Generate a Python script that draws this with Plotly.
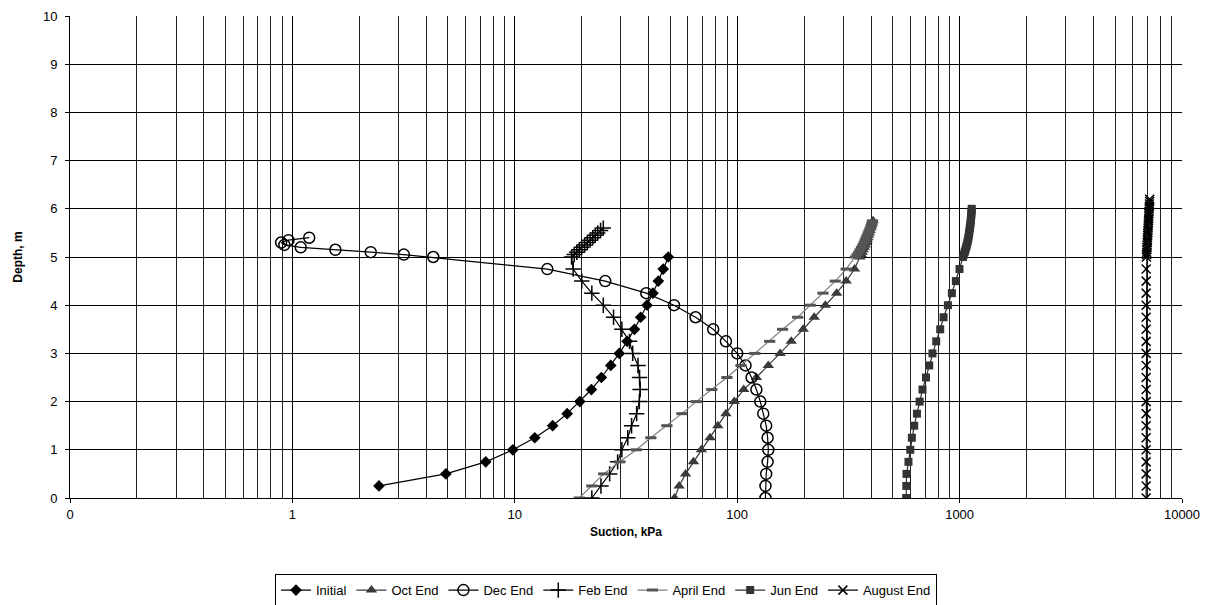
import plotly.graph_objects as go

# ---------------- data ----------------
initial_depth = [0.25, 0.5, 0.75, 1.0, 1.25, 1.5, 1.75, 2.0, 2.25, 2.5, 2.75, 3.0, 3.25, 3.5,
                 3.75, 4.0, 4.25, 4.5, 4.75, 5.0]
initial_suction = [2.45, 4.9, 7.4, 9.8, 12.3, 14.8, 17.2, 19.6, 22.1, 24.5, 27.0, 29.5, 32.0, 34.5,
                   36.8, 39.3, 41.8, 44.2, 46.5, 49.0]

oct_depth = [0.0, 0.25, 0.5, 0.75, 1.0, 1.25, 1.5, 1.75, 2.0, 2.25, 2.5, 2.75, 3.0, 3.25, 3.5,
             3.75, 4.0, 4.25, 4.5, 4.75, 5.0, 5.05, 5.1, 5.15, 5.2, 5.25, 5.3, 5.35, 5.4, 5.45,
             5.5, 5.55, 5.6, 5.65, 5.7, 5.75]
oct_suction = [52.3, 54.8, 58.6, 63.6, 69.0, 75.5, 81.8, 89.0, 97.0, 107, 122, 138, 156, 175, 198,
               222, 249, 280, 309, 337, 356, 361, 365, 369, 373, 377, 381, 384, 387, 390,
               393, 396, 399, 402, 405, 408]

dec_depth = [0.0, 0.25, 0.5, 0.75, 1.0, 1.25, 1.5, 1.75, 2.0, 2.25, 2.5, 2.75, 3.0, 3.25, 3.5,
             3.75, 4.0, 4.25, 4.5, 4.75, 5.0, 5.05, 5.1, 5.15, 5.2, 5.25, 5.3, 5.35, 5.4]
dec_suction = [134, 134, 135, 137, 138, 137, 135, 131, 127, 122, 116, 109, 100, 89, 78,
               65, 52, 39, 25.5, 14.0, 4.3, 3.17, 2.25, 1.56, 1.09, 0.92, 0.89, 0.96, 1.19]

feb_depth = [0.0, 0.25, 0.5, 0.75, 1.0, 1.25, 1.5, 1.75, 2.0, 2.25, 2.5, 2.75, 3.0, 3.25, 3.5,
             3.75, 4.0, 4.25, 4.5, 4.75, 5.0, 5.05, 5.1, 5.15, 5.2, 5.25, 5.3, 5.35, 5.4, 5.45,
             5.5, 5.55, 5.6]
feb_suction = [22.2, 24.4, 26.7, 29.0, 30.3, 32.2, 33.5, 35.3, 36.3, 36.6, 36.4, 35.8, 33.9, 32.8,
               30.3, 27.8, 25.0, 22.2, 20.0, 18.3, 18.0, 18.5, 19.0, 19.5, 20.0, 20.6, 21.2, 21.8,
               22.4, 23.0, 23.6, 24.3, 25.0]

april_depth = [0.0, 0.25, 0.5, 0.75, 1.0, 1.25, 1.5, 1.75, 2.0, 2.25, 2.5, 2.75, 3.0, 3.25, 3.5,
               3.75, 4.0, 4.25, 4.5, 4.75, 5.0, 5.05, 5.1, 5.15, 5.2, 5.25, 5.3, 5.35, 5.4, 5.45,
               5.5, 5.55, 5.6, 5.65, 5.7, 5.75]
april_suction = [19.5, 22.2, 25.1, 29.6, 35.2, 40.9, 48.3, 56.4, 65.4, 76.9, 89.9, 104, 120, 140,
                 160, 187, 213, 243, 276, 309, 340, 346, 352, 357, 362, 367, 372, 376, 380, 384,
                 388, 392, 396, 400, 403, 406]

jun_depth = [0.0, 0.25, 0.5, 0.75, 1.0, 1.25, 1.5, 1.75, 2.0, 2.25, 2.5, 2.75, 3.0, 3.25, 3.5,
             3.75, 4.0, 4.25, 4.5, 4.75, 5.0, 5.05, 5.1, 5.15, 5.2, 5.25, 5.3, 5.35, 5.4, 5.45,
             5.5, 5.55, 5.6, 5.65, 5.7, 5.75, 5.8, 5.85, 5.9, 5.95, 6.0]
jun_suction = [575, 576, 577, 589, 600, 610, 625, 643, 661, 681, 706, 730, 755, 785, 818,
               847, 886, 923, 962, 999, 1035, 1045, 1054, 1062, 1070, 1077, 1084, 1090, 1095, 1100,
               1104, 1108, 1112, 1116, 1119, 1122, 1125, 1128, 1130, 1132, 1134]

aug_depth = [0.0, 0.25, 0.5, 0.75, 1.0, 1.25, 1.5, 1.75, 2.0, 2.25, 2.5, 2.75, 3.0, 3.25, 3.5,
             3.75, 4.0, 4.25, 4.5, 4.75, 5.0, 5.05, 5.1, 5.15, 5.2, 5.25, 5.3, 5.35, 5.4, 5.45,
             5.5, 5.55, 5.6, 5.65, 5.7, 5.75, 5.8, 5.85, 5.9, 5.95, 6.0, 6.05, 6.1, 6.15, 6.2]
aug_suction = [6900, 6900, 6900, 6900, 6900, 6900, 6900, 6900, 6900, 6900, 6900, 6900, 6900, 6900,
               6900, 6900, 6900, 6900, 6900, 6900, 6920, 6930, 6940, 6950, 6960, 6970, 6980, 6990,
               7000, 7010, 7020, 7030, 7040, 7050, 7060, 7070, 7080, 7090, 7100, 7110, 7120, 7130,
               7140, 7150, 7160]

x_tick_vals = [0.1, 1, 10, 100, 1000, 10000]
x_tick_text = ["0", "1", "10", "100", "1000", "10000"]
x_minor_vals = [m * d for d in [0.1, 1, 10, 100, 1000] for m in range(2, 10)]

# ---------------- figure ----------------
fig = go.Figure()

def add(name, x, y, color, symbol, size, line_w=1.2, mline_w=0, mcolor=None, mline_color=None):
    fig.add_trace(go.Scatter(
        x=x, y=y, name=name, mode="lines+markers",
        line=dict(color=color, width=line_w),
        marker=dict(symbol=symbol, size=size, color=mcolor or color,
                    line=dict(width=mline_w, color=mline_color or color)),
    ))

add("Initial", initial_suction, initial_depth, "#000000", "diamond", 9)
add("Oct End", oct_suction, oct_depth, "#3a3a3a", "triangle-up", 10)
add("Dec End", dec_suction, dec_depth, "#000000", "circle-open", 11, mline_w=1.5)
add("Feb End", feb_suction, feb_depth, "#000000", "cross-thin", 11, mline_w=1.5)
add("April End", april_suction, april_depth, "#7f7f7f", "line-ew", 8, mline_w=3, mline_color="#555555")
add("Jun End", jun_suction, jun_depth, "#333333", "square", 8)
add("August End", aug_suction, aug_depth, "#000000", "x-thin", 9, mline_w=1.5)

fig.update_layout(
    width=1212, height=605,
    margin=dict(l=70, r=30, t=16, b=107, autoexpand=False),
    paper_bgcolor="white", plot_bgcolor="white",
    font=dict(family="Arial, Liberation Sans, sans-serif", size=13, color="black"),
    showlegend=True,
    legend=dict(
        orientation="h", x=0.482, xanchor="center", y=-0.158, yanchor="top",
        bordercolor="black", borderwidth=1, font=dict(size=13),
        itemwidth=30, tracegroupgap=0,
    ),
    xaxis=dict(
        type="log", range=[-1, 4],
        tickvals=x_tick_vals, ticktext=x_tick_text,
        ticks="outside", ticklen=4, tickcolor="black",
        showgrid=True, gridcolor="#000000", gridwidth=1,
        minor=dict(tickvals=x_minor_vals, showgrid=True, gridcolor="#222222", gridwidth=1, ticks=""),
        showline=True, linecolor="black", linewidth=1,
        zeroline=False,
        title=dict(text="<b>Suction, kPa</b>", font=dict(size=12), standoff=7),
    ),
    yaxis=dict(
        range=[0, 10], dtick=1, tick0=0,
        ticks="outside", ticklen=4, tickcolor="black",
        ticklabelstandoff=5,
        showgrid=True, gridcolor="#000000", gridwidth=1,
        showline=True, linecolor="black", linewidth=1,
        zeroline=False,
        title=dict(text="<b>Depth, m</b>", font=dict(size=12), standoff=17),
    ),
)

fig.write_html("out.html")
